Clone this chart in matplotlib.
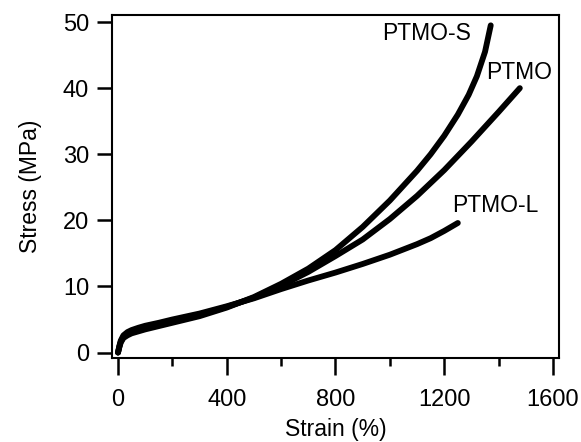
import numpy as np
import matplotlib
matplotlib.use("Agg")
import matplotlib.pyplot as plt
from matplotlib.ticker import MultipleLocator

plt.rcParams["font.family"] = ["Liberation Sans", "DejaVu Sans"]

# stress-strain curves (strain %, stress MPa)
S_x = [0, 5, 10, 20, 35, 50, 75, 100, 150, 200, 300, 400, 500, 600, 700,
       800, 900, 1000, 1100, 1150, 1200, 1250, 1290, 1320, 1350, 1371]
S_y = [0, 0.8, 1.5, 2.2, 2.6, 2.9, 3.2, 3.5, 4.0, 4.5, 5.5, 6.8, 8.4, 10.4,
       12.7, 15.5, 19.0, 23.0, 27.5, 30.0, 32.8, 36.0, 39.0, 41.8, 45.5, 49.5]

P_x = [0, 5, 10, 20, 35, 50, 75, 100, 150, 200, 300, 400, 500, 600, 700,
       800, 900, 1000, 1100, 1200, 1300, 1400, 1478]
P_y = [0, 0.9, 1.6, 2.4, 2.8, 3.1, 3.45, 3.75, 4.2, 4.7, 5.7, 6.9, 8.3, 10.1,
       12.2, 14.6, 17.1, 20.2, 23.7, 27.6, 31.9, 36.4, 40.0]

L_x = [0, 5, 10, 20, 35, 50, 75, 100, 150, 200, 300, 400, 500, 600, 700,
       800, 900, 1000, 1100, 1150, 1200, 1250]
L_y = [0, 1.0, 1.8, 2.6, 3.1, 3.4, 3.75, 4.05, 4.5, 5.0, 5.9, 7.0, 8.2, 9.6,
       10.9, 12.1, 13.4, 14.8, 16.4, 17.3, 18.4, 19.6]

series = [("PTMO-S", S_x, S_y), ("PTMO", P_x, P_y), ("PTMO-L", L_x, L_y)]

fig = plt.figure(figsize=(5.81, 4.42), dpi=100)
ax = fig.add_axes([0.1928, 0.19, 0.7693, 0.776])

for name, xs, ys in series:
    ax.plot(xs, ys, color="black", lw=4.2, solid_capstyle="round",
            solid_joinstyle="round")

fs = 16.5
ax.text(1297, 48.3, "PTMO-S", ha="right", va="center", fontsize=fs)
ax.text(1354, 42.4, "PTMO", ha="left", va="center", fontsize=fs)
ax.text(1228, 22.3, "PTMO-L", ha="left", va="center", fontsize=fs)

ax.set_xlim(-22, 1622)
ax.set_ylim(-0.83, 51.06)
ax.xaxis.set_major_locator(MultipleLocator(400))
ax.xaxis.set_minor_locator(MultipleLocator(200))
ax.yaxis.set_major_locator(MultipleLocator(10))

for sp in ax.spines.values():
    sp.set_linewidth(1.5)
ax.tick_params(axis="x", which="major", direction="out", length=12.5,
               width=1.8, pad=10, labelsize=17)
ax.tick_params(axis="x", which="minor", direction="out", length=6,
               width=1.8)
ax.tick_params(axis="y", which="major", direction="out", length=10.5,
               width=1.8, pad=6, labelsize=17)

ax.set_xlabel("Strain (%)", fontsize=fs, labelpad=5)
ax.set_ylabel("Stress (MPa)", fontsize=fs, labelpad=15)

fig.savefig("out.png", dpi=100)
